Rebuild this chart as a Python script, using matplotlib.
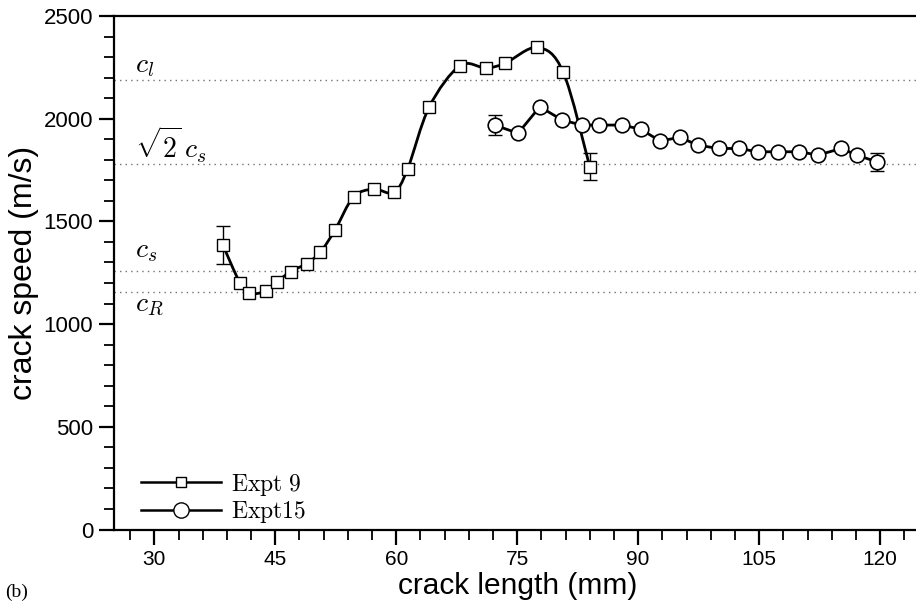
import numpy as np
import matplotlib
matplotlib.use("Agg")
import matplotlib.pyplot as plt
from matplotlib.path import Path
from matplotlib.patches import PathPatch
from matplotlib.ticker import MultipleLocator

plt.rcParams['mathtext.fontset'] = 'cm'
plt.rcParams['font.family'] = ['Liberation Sans', 'DejaVu Sans']

# ---- data ----
x9 = [38.5, 40.6, 41.8, 43.8, 45.2, 46.9, 48.9, 50.6, 52.4, 54.7, 57.2, 59.7,
      61.4, 64.1, 67.9, 71.1, 73.5, 77.5, 80.7, 84.0]
v9 = [1385, 1202, 1150, 1160, 1205, 1256, 1295, 1351, 1458, 1619, 1657, 1641,
      1754, 2058, 2258, 2247, 2270, 2347, 2227, 1766]
err9_x = [38.5, 84.0]
err9_v = [1385, 1766]
err9_e = [93, 65]

x15 = [72.2, 75.1, 77.8, 80.6, 83.0, 85.1, 88.0, 90.3, 92.7, 95.2, 97.4, 100.0,
       102.5, 104.8, 107.4, 110.0, 112.3, 115.2, 117.1, 119.6]
v15 = [1969, 1929, 2058, 1993, 1969, 1969, 1969, 1949, 1892, 1909, 1871, 1855,
       1855, 1839, 1839, 1839, 1823, 1855, 1823, 1790]
err15_x = [72.2, 119.6]
err15_v = [1969, 1790]
err15_e = [47, 45]

ref_names = [r'$c_l$', r'$\sqrt{2}\,c_s$', r'$c_s$', r'$c_R$']
ref_speeds = [2190, 1778, 1257, 1155]
ref_label_y = [2225, 1808, 1323, 1060]

xticks = [30, 45, 60, 75, 90, 105, 120]
yticks = [0, 500, 1000, 1500, 2000, 2500]

# ---- figure ----
W, H = 916, 607
fig = plt.figure(figsize=(W / 100, H / 100), dpi=100)
ax = fig.add_axes([114 / W, (H - 529.5) / H, (920.4 - 114) / W, (529.5 - 16) / H])
ax.set_xlim(25, 125)
ax.set_ylim(0, 2500)

# reference speed lines
for s, lab, ly in zip(ref_speeds, ref_names, ref_label_y):
    ax.axhline(s, color='0.45', lw=1.0, ls=(0, (1, 3)), zorder=1)
    ax.text(27.6, ly, lab, fontsize=20, va='baseline', ha='left', color='k')


def smooth_path(xs, ys):
    P = np.column_stack([xs, ys]).astype(float)
    n = len(P)
    verts = [P[0]]
    codes = [Path.MOVETO]
    for i in range(n - 1):
        p0 = P[i - 1] if i > 0 else P[i]
        p1 = P[i]
        p2 = P[i + 1]
        p3 = P[i + 2] if i + 2 < n else P[i + 1]
        c1 = p1 + (p2 - p0) / 6.0
        c2 = p2 - (p3 - p1) / 6.0
        verts += [c1, c2, p2]
        codes += [Path.CURVE4] * 3
    return Path(verts, codes)


# Expt 9 smooth curve
ax.add_patch(PathPatch(smooth_path(x9, v9), facecolor='none', edgecolor='k',
                       lw=2.0, zorder=3))
ax.errorbar(err9_x, err9_v, yerr=err9_e, fmt='none', ecolor='k', elinewidth=1.0,
            capsize=5, capthick=1.0, zorder=2)
ax.plot(x9, v9, ls='none', marker='s', ms=8.0, mfc='white', mec='k', mew=1.0,
        zorder=4)

# Expt 15
ax.errorbar(err15_x, err15_v, yerr=err15_e, fmt='none', ecolor='k', elinewidth=1.0,
            capsize=5, capthick=1.0, zorder=2)
ax.plot(x15, v15, color='k', lw=2.0, marker='o', ms=10.5, mfc='white', mec='k',
        mew=1.2, zorder=4)

# legend proxies
h9, = ax.plot([], [], color='k', lw=1.8, marker='s', ms=7.5, mfc='white', mec='k', mew=1.0)
h15, = ax.plot([], [], color='k', lw=1.8, marker='o', ms=11, mfc='white', mec='k', mew=1.0)
leg = ax.legend([h9, h15], [r'$\mathrm{Expt\ 9}$', r'$\mathrm{Expt15}$'],
                loc='lower left', bbox_to_anchor=(0.0124, -0.023), frameon=False,
                fontsize=17, handlelength=3.4, handletextpad=0.45, labelspacing=0.05,
                borderaxespad=0.3)

# axes styling
ax.spines['right'].set_visible(False)
for sp in ['left', 'bottom', 'top']:
    ax.spines[sp].set_linewidth(1.6)
ax.set_xticks(xticks)
ax.set_yticks(yticks)
ax.xaxis.set_minor_locator(MultipleLocator(3))
ax.yaxis.set_minor_locator(MultipleLocator(100))
ax.tick_params(axis='both', which='major', direction='out', length=11, width=1.6,
               labelsize=15, pad=4)
ax.tick_params(axis='y', which='major', labelsize=16)
ax.tick_params(axis='both', which='minor', direction='out', length=7, width=1.3)
ax.tick_params(axis='x', top=False, which='both')
ax.tick_params(axis='y', right=False, which='both')

ax.set_xlabel('crack length (mm)', fontsize=21.5, labelpad=2)
ax.set_ylabel('crack speed (m/s)', fontsize=23, labelpad=3)

fig.text(5 / W, 1 - 592 / H, '(b)', fontsize=14, family='Liberation Serif',
         va='center', ha='left')

fig.savefig('out.png', dpi=100)
